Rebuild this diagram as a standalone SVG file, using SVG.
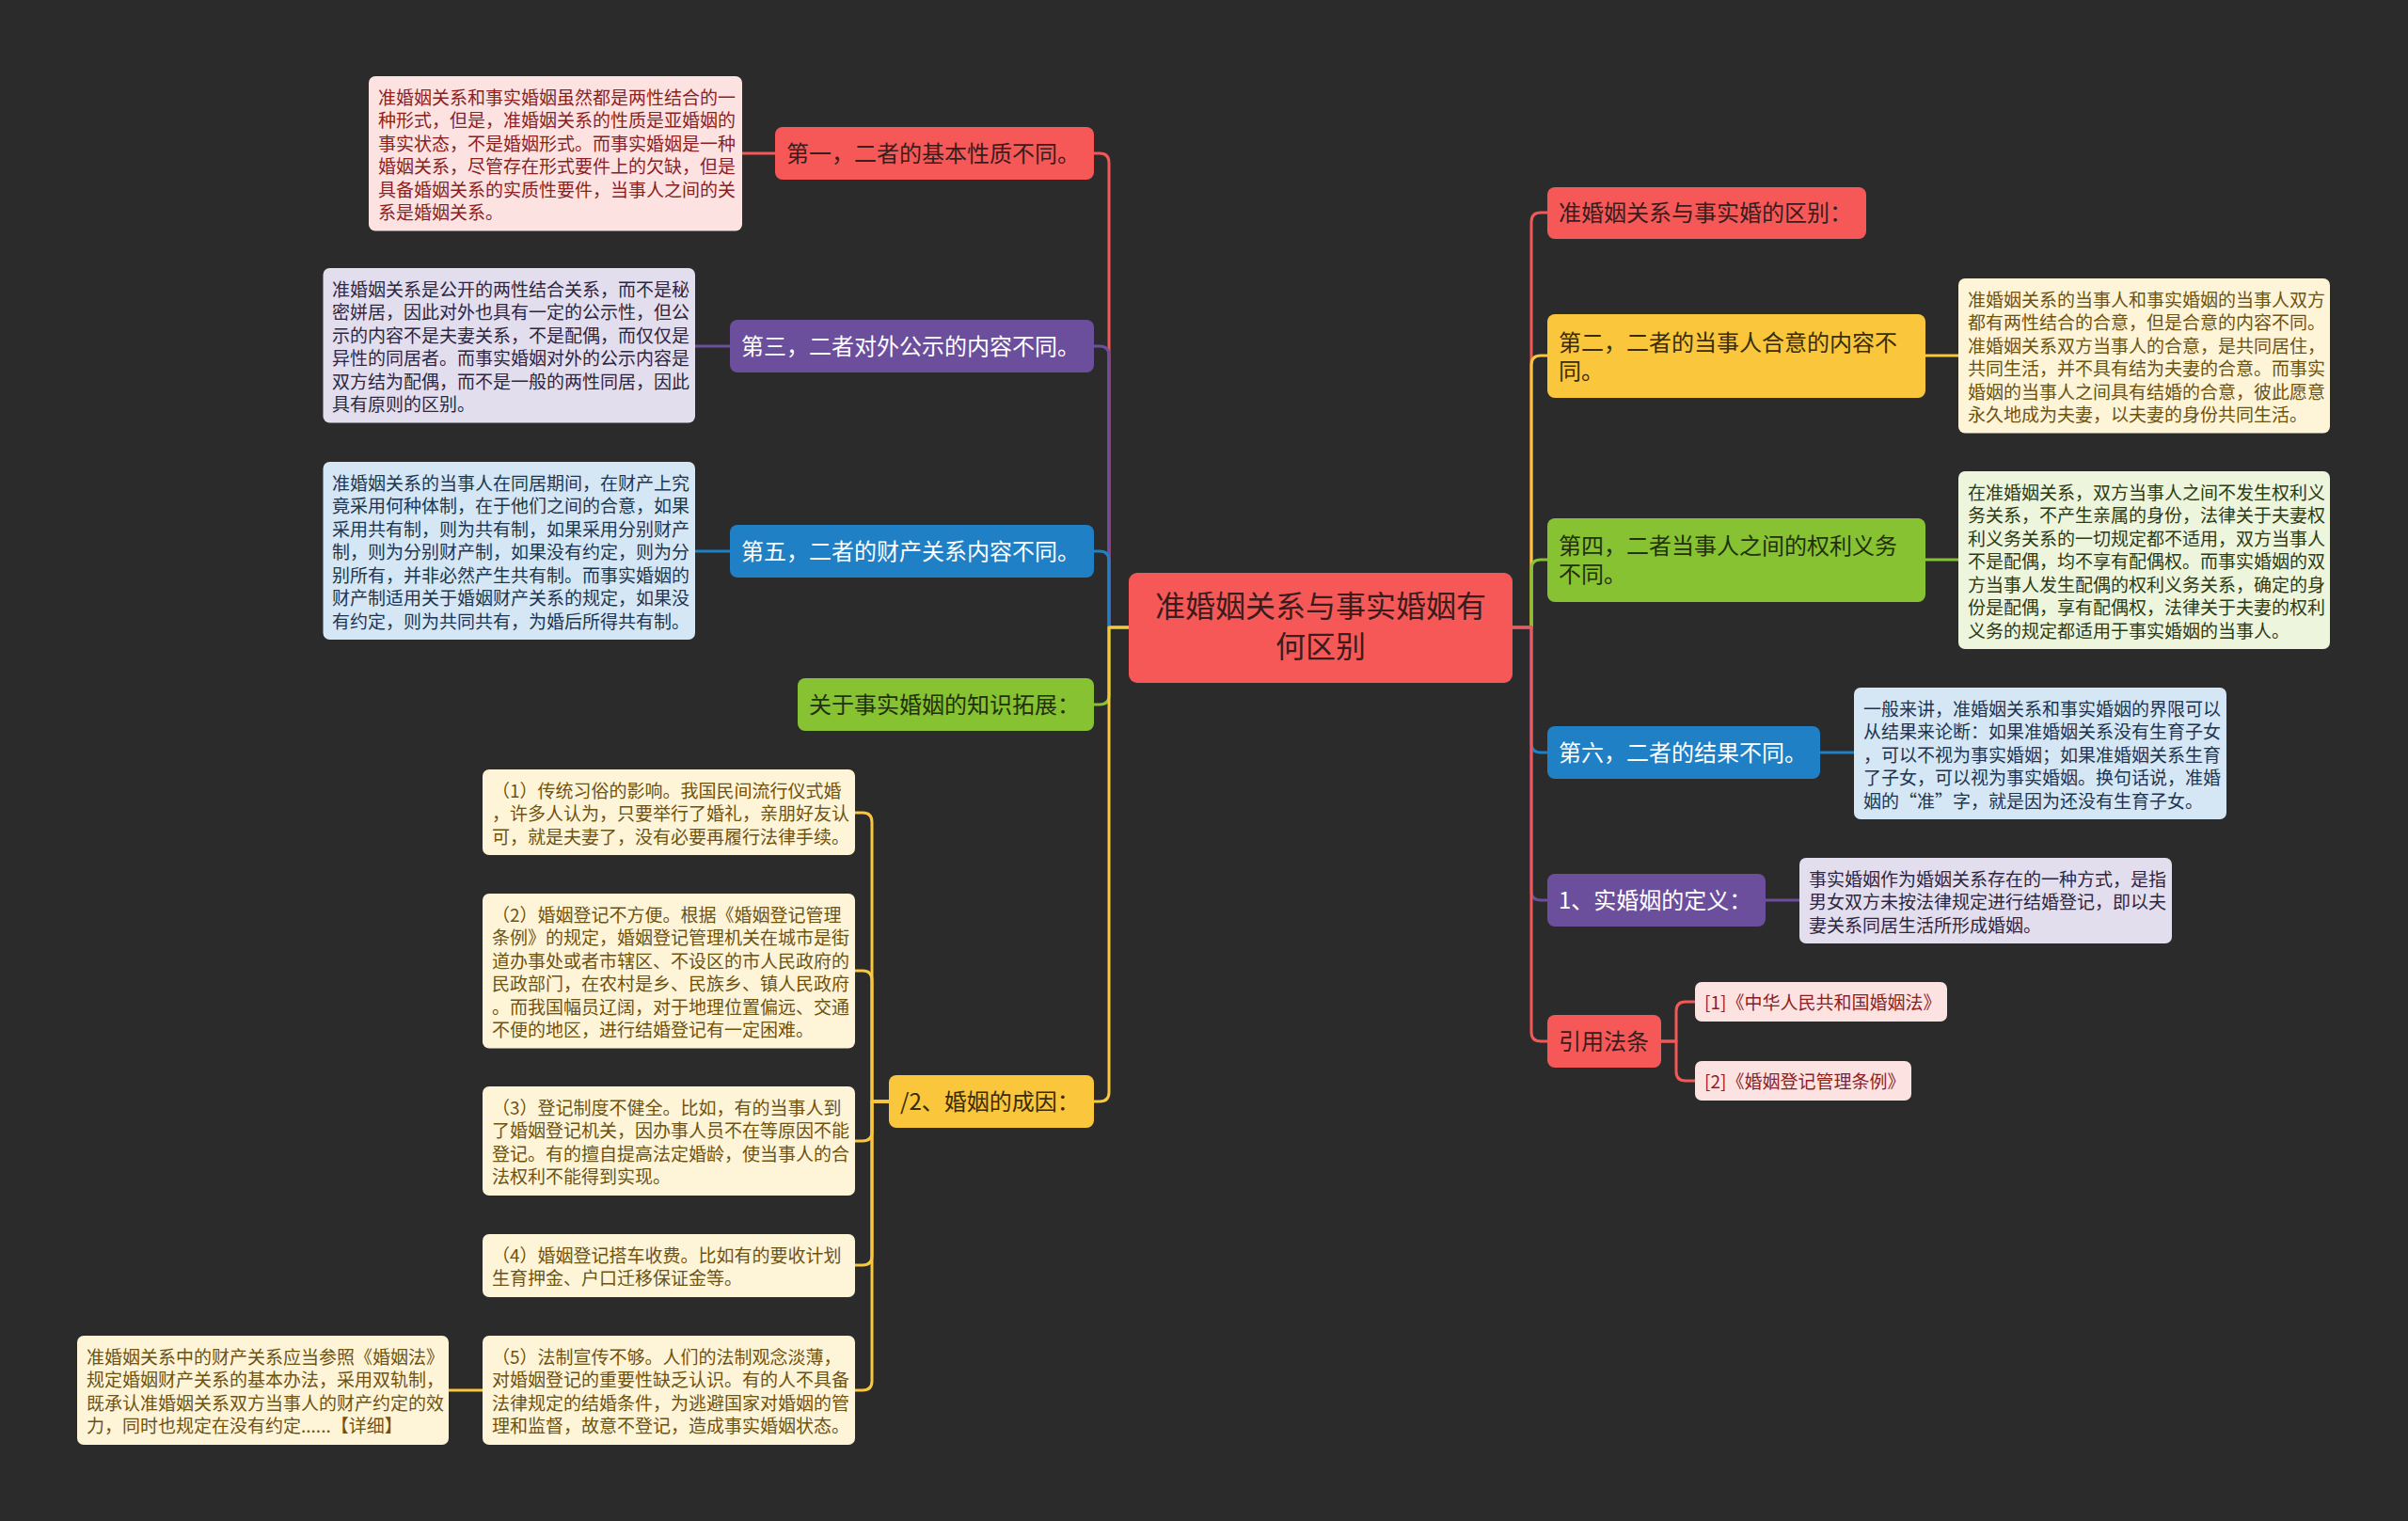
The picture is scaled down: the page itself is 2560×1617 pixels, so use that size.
<svg xmlns="http://www.w3.org/2000/svg" width="2560" height="1617" viewBox="0 0 2560 1617">
<style>
text{font-family:"Noto Sans CJK SC","Noto Sans",sans-serif;dominant-baseline:central}
.nt{font-size:24px}
.lt{font-size:19px}
.ct{font-size:32px;text-anchor:middle;fill:#3a1c1c}
.dk{fill:#3a1c1c}
.dy{fill:#3a2c08}
.dg{fill:#22300c}
.wh{fill:#ffffff}
.tp{fill:#8a1f1f}
.tl{fill:#2e2640}
.tb{fill:#1d3550}
.tc{fill:#6e5210}
.tgn{fill:#2e3a14}
.c{fill:none;stroke-width:3;stroke-linecap:round;stroke-linejoin:round}
.red{stroke:#f45757}.pur{stroke:#6c4f9c}.blu{stroke:#1f80c6}.grn{stroke:#86c232}.yel{stroke:#f9c63c}
.fr{fill:#f65858}.fp{fill:#6c4f9c}.fb{fill:#1f80c6}.fg{fill:#86c232}.fy{fill:#f9c63c}
.lp{fill:#fde2e2}.ll{fill:#e3deee}.lb{fill:#d5e7f4}.lc{fill:#fef5d9}.lg{fill:#edf5dd}
</style>
<rect width="2560" height="1617" fill="#2b2b2b"/>
<g id="connectors">
<path class="c red" d="M1163 163 H1169 Q1179 163 1179 173 V667 H1200"/>
<path class="c pur" d="M1163 368 H1169 Q1179 368 1179 378 V667 H1200"/>
<path class="c blu" d="M1163 586 H1169 Q1179 586 1179 596 V667 H1200"/>
<path class="c grn" d="M1163 749 H1169 Q1179 749 1179 739 V667 H1200"/>
<path class="c yel" d="M1163 1171 H1169 Q1179 1171 1179 1161 V667 H1200"/>
<path class="c red" d="M1608 667 H1628 V236 Q1628 226 1638 226 H1645"/>
<path class="c yel" d="M1608 667 H1628 V388 Q1628 378 1638 378 H1645"/>
<path class="c grn" d="M1608 667 H1628 V605 Q1628 595 1638 595 H1645"/>
<path class="c blu" d="M1608 667 H1628 V790 Q1628 800 1638 800 H1645"/>
<path class="c pur" d="M1608 667 H1628 V947 Q1628 957 1638 957 H1645"/>
<path class="c red" d="M1608 667 H1628 V1097 Q1628 1107 1638 1107 H1645"/>
<path class="c red" d="M789 163 H824"/>
<path class="c pur" d="M739 368 H776"/>
<path class="c blu" d="M739 586 H776"/>
<path class="c yel" d="M2047 378 H2082"/>
<path class="c grn" d="M2047 595 H2082"/>
<path class="c blu" d="M1935 800 H1971"/>
<path class="c pur" d="M1877 957 H1913"/>
<path class="c red" d="M1766 1107 H1782 V1075 Q1782 1065 1792 1065 H1802"/>
<path class="c red" d="M1766 1107 H1782 V1139 Q1782 1149 1792 1149 H1802"/>
<path class="c yel" d="M909 864 H917 Q927 864 927 874 V1171 H945"/>
<path class="c yel" d="M909 1032 H917 Q927 1032 927 1042 V1171 H945"/>
<path class="c yel" d="M909 1213 H917 Q927 1213 927 1203 V1171 H945"/>
<path class="c yel" d="M909 1345 H917 Q927 1345 927 1335 V1171 H945"/>
<path class="c yel" d="M909 1478 H917 Q927 1478 927 1468 V1171 H945"/>
<path class="c yel" d="M477 1478 H513"/>
</g>
<g id="center">
<rect class="fr" x="1200" y="609" width="408" height="117" rx="9"/>
<text class="ct" x="1404" y="642">准婚姻关系与事实婚姻有</text>
<text class="ct" x="1404" y="685">何区别</text>
</g>
<g id="n1">
<rect class="fr" x="824" y="135" width="339" height="56" rx="8"/>
<text class="nt dk" x="836" y="161">第一，二者的基本性质不同。</text>
</g>
<g id="n1-leaf">
<rect class="lp" x="392" y="81" width="397" height="164.5" rx="7"/>
<text class="lt tp"><tspan x="402" y="101.5">准婚姻关系和事实婚姻虽然都是两性结合的一</tspan><tspan x="402" y="126">种形式，但是，准婚姻关系的性质是亚婚姻的</tspan><tspan x="402" y="150.5">事实状态，不是婚姻形式。而事实婚姻是一种</tspan><tspan x="402" y="175">婚姻关系，尽管存在形式要件上的欠缺，但是</tspan><tspan x="402" y="199.5">具备婚姻关系的实质性要件，当事人之间的关</tspan><tspan x="402" y="224">系是婚姻关系。</tspan></text>
</g>
<g id="n3">
<rect class="fp" x="776" y="340" width="387" height="56" rx="8"/>
<text class="nt wh" x="788" y="366">第三，二者对外公示的内容不同。</text>
</g>
<g id="n3-leaf">
<rect class="ll" x="343.5" y="285" width="395.5" height="164.5" rx="7"/>
<text class="lt tl"><tspan x="353" y="305.5">准婚姻关系是公开的两性结合关系，而不是秘</tspan><tspan x="353" y="330">密姘居，因此对外也具有一定的公示性，但公</tspan><tspan x="353" y="354.5">示的内容不是夫妻关系，不是配偶，而仅仅是</tspan><tspan x="353" y="379">异性的同居者。而事实婚姻对外的公示内容是</tspan><tspan x="353" y="403.5">双方结为配偶，而不是一般的两性同居，因此</tspan><tspan x="353" y="428">具有原则的区别。</tspan></text>
</g>
<g id="n5">
<rect class="fb" x="776" y="558" width="387" height="56" rx="8"/>
<text class="nt wh" x="788" y="584">第五，二者的财产关系内容不同。</text>
</g>
<g id="n5-leaf">
<rect class="lb" x="343.5" y="491" width="395.5" height="189" rx="7"/>
<text class="lt tb"><tspan x="353" y="511.5">准婚姻关系的当事人在同居期间，在财产上究</tspan><tspan x="353" y="536">竟采用何种体制，在于他们之间的合意，如果</tspan><tspan x="353" y="560.5">采用共有制，则为共有制，如果采用分别财产</tspan><tspan x="353" y="585">制，则为分别财产制，如果没有约定，则为分</tspan><tspan x="353" y="609.5">别所有，并非必然产生共有制。而事实婚姻的</tspan><tspan x="353" y="634">财产制适用关于婚姻财产关系的规定，如果没</tspan><tspan x="353" y="658.5">有约定，则为共同共有，为婚后所得共有制。</tspan></text>
</g>
<g id="nk">
<rect class="fg" x="848" y="721" width="315" height="56" rx="8"/>
<text class="nt dg" x="860" y="747">关于事实婚姻的知识拓展：</text>
</g>
<g id="nc">
<rect class="fy" x="945" y="1143" width="218" height="56" rx="8"/>
<text class="nt dy" x="957" y="1169">/2、婚姻的成因：</text>
</g>
<g id="c1">
<rect class="lc" x="513" y="818" width="396" height="91" rx="7"/>
<text class="lt tc"><tspan x="523" y="838.5">（1）传统习俗的影响。我国民间流行仪式婚</tspan><tspan x="523" y="863">，许多人认为，只要举行了婚礼，亲朋好友认</tspan><tspan x="523" y="887.5">可，就是夫妻了，没有必要再履行法律手续。</tspan></text>
</g>
<g id="c2">
<rect class="lc" x="513" y="950" width="396" height="164.5" rx="7"/>
<text class="lt tc"><tspan x="523" y="970.5">（2）婚姻登记不方便。根据《婚姻登记管理</tspan><tspan x="523" y="995">条例》的规定，婚姻登记管理机关在城市是街</tspan><tspan x="523" y="1019.5">道办事处或者市辖区、不设区的市人民政府的</tspan><tspan x="523" y="1044">民政部门，在农村是乡、民族乡、镇人民政府</tspan><tspan x="523" y="1068.5">。而我国幅员辽阔，对于地理位置偏远、交通</tspan><tspan x="523" y="1093">不便的地区，进行结婚登记有一定困难。</tspan></text>
</g>
<g id="c3">
<rect class="lc" x="513" y="1155" width="396" height="116" rx="7"/>
<text class="lt tc"><tspan x="523" y="1175.5">（3）登记制度不健全。比如，有的当事人到</tspan><tspan x="523" y="1200">了婚姻登记机关，因办事人员不在等原因不能</tspan><tspan x="523" y="1224.5">登记。有的擅自提高法定婚龄，使当事人的合</tspan><tspan x="523" y="1249">法权利不能得到实现。</tspan></text>
</g>
<g id="c4">
<rect class="lc" x="513" y="1312" width="396" height="67" rx="7"/>
<text class="lt tc"><tspan x="523" y="1332.5">（4）婚姻登记搭车收费。比如有的要收计划</tspan><tspan x="523" y="1357">生育押金、户口迁移保证金等。</tspan></text>
</g>
<g id="c5">
<rect class="lc" x="513" y="1420" width="396" height="116" rx="7"/>
<text class="lt tc"><tspan x="523" y="1440.5">（5）法制宣传不够。人们的法制观念淡薄，</tspan><tspan x="523" y="1465">对婚姻登记的重要性缺乏认识。有的人不具备</tspan><tspan x="523" y="1489.5">法律规定的结婚条件，为逃避国家对婚姻的管</tspan><tspan x="523" y="1514">理和监督，故意不登记，造成事实婚姻状态。</tspan></text>
</g>
<g id="c5-leaf">
<rect class="lc" x="82" y="1420" width="395" height="116" rx="7"/>
<text class="lt tc"><tspan x="92" y="1440.5">准婚姻关系中的财产关系应当参照《婚姻法》</tspan><tspan x="92" y="1465">规定婚姻财产关系的基本办法，采用双轨制，</tspan><tspan x="92" y="1489.5">既承认准婚姻关系双方当事人的财产约定的效</tspan><tspan x="92" y="1514">力，同时也规定在没有约定......【详细】</tspan></text>
</g>
<g id="r1">
<rect class="fr" x="1645" y="199" width="339" height="55" rx="8"/>
<text class="nt dk" x="1657" y="224">准婚姻关系与事实婚的区别：</text>
</g>
<g id="r2">
<rect class="fy" x="1645" y="334" width="402" height="89" rx="8"/>
<text class="nt dy"><tspan x="1657" y="362">第二，二者的当事人合意的内容不</tspan><tspan x="1657" y="392">同。</tspan></text>
</g>
<g id="r2-leaf">
<rect class="lc" x="2082" y="296" width="395" height="164.5" rx="7"/>
<text class="lt tc"><tspan x="2092" y="316.5">准婚姻关系的当事人和事实婚姻的当事人双方</tspan><tspan x="2092" y="341">都有两性结合的合意，但是合意的内容不同。</tspan><tspan x="2092" y="365.5">准婚姻关系双方当事人的合意，是共同居住，</tspan><tspan x="2092" y="390">共同生活，并不具有结为夫妻的合意。而事实</tspan><tspan x="2092" y="414.5">婚姻的当事人之间具有结婚的合意，彼此愿意</tspan><tspan x="2092" y="439">永久地成为夫妻，以夫妻的身份共同生活。</tspan></text>
</g>
<g id="r3">
<rect class="fg" x="1645" y="551" width="402" height="89" rx="8"/>
<text class="nt dg"><tspan x="1657" y="578">第四，二者当事人之间的权利义务</tspan><tspan x="1657" y="608">不同。</tspan></text>
</g>
<g id="r3-leaf">
<rect class="lg" x="2082" y="501" width="395" height="189" rx="7"/>
<text class="lt tgn"><tspan x="2092" y="521.5">在准婚姻关系，双方当事人之间不发生权利义</tspan><tspan x="2092" y="546">务关系，不产生亲属的身份，法律关于夫妻权</tspan><tspan x="2092" y="570.5">利义务关系的一切规定都不适用，双方当事人</tspan><tspan x="2092" y="595">不是配偶，均不享有配偶权。而事实婚姻的双</tspan><tspan x="2092" y="619.5">方当事人发生配偶的权利义务关系，确定的身</tspan><tspan x="2092" y="644">份是配偶，享有配偶权，法律关于夫妻的权利</tspan><tspan x="2092" y="668.5">义务的规定都适用于事实婚姻的当事人。</tspan></text>
</g>
<g id="r4">
<rect class="fb" x="1645" y="772" width="290" height="56" rx="8"/>
<text class="nt wh" x="1657" y="798">第六，二者的结果不同。</text>
</g>
<g id="r4-leaf">
<rect class="lb" x="1971" y="731" width="396" height="140" rx="7"/>
<text class="lt tb"><tspan x="1981" y="751.5">一般来讲，准婚姻关系和事实婚姻的界限可以</tspan><tspan x="1981" y="776">从结果来论断：如果准婚姻关系没有生育子女</tspan><tspan x="1981" y="800.5">，可以不视为事实婚姻；如果准婚姻关系生育</tspan><tspan x="1981" y="825">了子女，可以视为事实婚姻。换句话说，准婚</tspan><tspan x="1981" y="849.5">姻的“准”字，就是因为还没有生育子女。</tspan></text>
</g>
<g id="r5">
<rect class="fp" x="1645" y="929" width="232" height="56" rx="8"/>
<text class="nt wh" x="1657" y="955">1、实婚姻的定义：</text>
</g>
<g id="r5-leaf">
<rect class="ll" x="1913" y="912" width="396" height="91" rx="7"/>
<text class="lt tl"><tspan x="1923" y="932.5">事实婚姻作为婚姻关系存在的一种方式，是指</tspan><tspan x="1923" y="957">男女双方未按法律规定进行结婚登记，即以夫</tspan><tspan x="1923" y="981.5">妻关系同居生活所形成婚姻。</tspan></text>
</g>
<g id="r6">
<rect class="fr" x="1645" y="1079" width="121" height="56" rx="8"/>
<text class="nt dk" x="1657" y="1105">引用法条</text>
</g>
<g id="r6-leaf1">
<rect class="lp" x="1802" y="1044" width="268" height="42" rx="7"/>
<text class="lt tp" x="1812" y="1064">[1]《中华人民共和国婚姻法》</text>
</g>
<g id="r6-leaf2">
<rect class="lp" x="1802" y="1128" width="230" height="42" rx="7"/>
<text class="lt tp" x="1812" y="1148">[2]《婚姻登记管理条例》</text>
</g>
</svg>
